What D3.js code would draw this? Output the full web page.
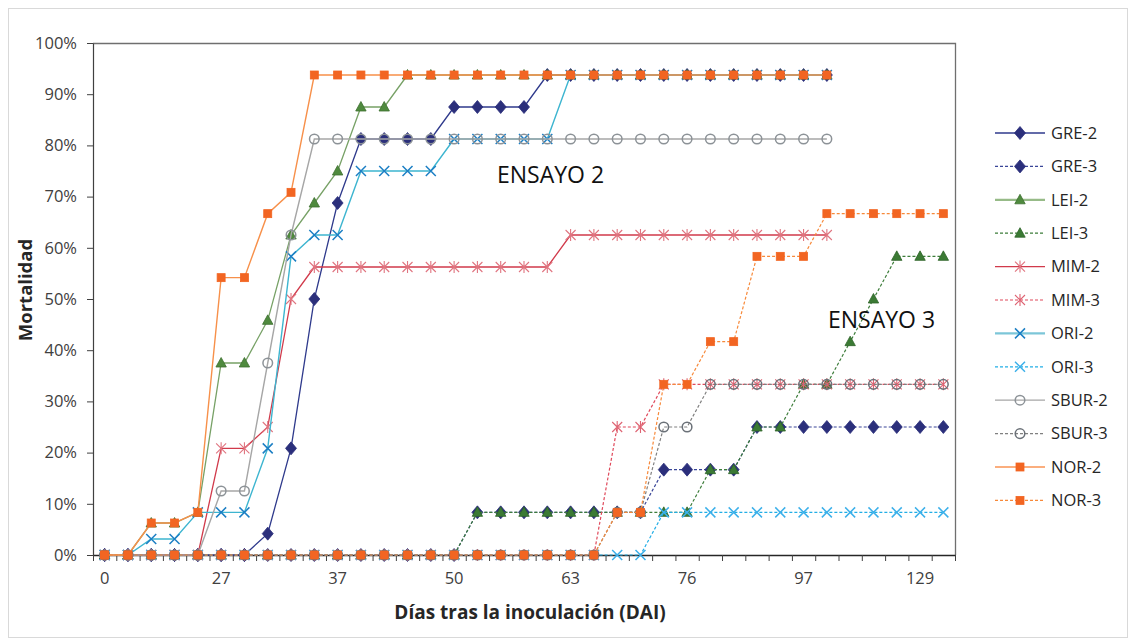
<!DOCTYPE html>
<html>
<head>
<meta charset="utf-8">
<script src="https://cdn.jsdelivr.net/npm/d3@7"></script>
<style>
  html, body { margin: 0; padding: 0; background: #fff; }
  svg { display: block; font-family: "Open Sans", "Noto Sans", sans-serif; }
</style>
</head>
<body>
<svg id="chart" width="1136" height="644"></svg>
<script>
// ---- Data (Mortalidad, %) ----
const nCategories = 37;
const tickIndex = [0, 5, 10, 15, 20, 25, 30, 35];
const tickLabels = ["0", "27", "37", "50", "63", "76", "97", "129"];
const yTicks = [0, 10, 20, 30, 40, 50, 60, 70, 80, 90, 100];

const GRE2 = [0,0,0,0,0,0,0,4.17,20.83,50,68.75,81.25,81.25,81.25,81.25,87.5,87.5,87.5,87.5,93.75,93.75,93.75,93.75,93.75,93.75,93.75,93.75,93.75,93.75,93.75,93.75,93.75];
const GRE3 = [0,0,0,0,0,0,0,0,0,0,0,0,0,0,0,0,8.33,8.33,8.33,8.33,8.33,8.33,8.33,8.33,16.67,16.67,16.67,16.67,25,25,25,25,25,25,25,25,25];
const LEI2 = [0,0,6.25,6.25,8.33,37.5,37.5,45.83,62.5,68.75,75,87.5,87.5,93.75,93.75,93.75,93.75,93.75,93.75,93.75,93.75,93.75,93.75,93.75,93.75,93.75,93.75,93.75,93.75,93.75,93.75,93.75];
const LEI3 = [0,0,0,0,0,0,0,0,0,0,0,0,0,0,0,0,8.33,8.33,8.33,8.33,8.33,8.33,8.33,8.33,8.33,8.33,16.67,16.67,25,25,33.33,33.33,41.67,50,58.33,58.33,58.33];
const MIM2 = [0,0,0,0,0,20.83,20.83,25,50,56.25,56.25,56.25,56.25,56.25,56.25,56.25,56.25,56.25,56.25,56.25,62.5,62.5,62.5,62.5,62.5,62.5,62.5,62.5,62.5,62.5,62.5,62.5];
const MIM3 = [0,0,0,0,0,0,0,0,0,0,0,0,0,0,0,0,0,0,0,0,0,0,25,25,33.33,33.33,33.33,33.33,33.33,33.33,33.33,33.33,33.33,33.33,33.33,33.33,33.33];
const ORI2 = [0,0,3.13,3.13,8.33,8.33,8.33,20.83,58.33,62.5,62.5,75,75,75,75,81.25,81.25,81.25,81.25,81.25,93.75,93.75,93.75,93.75,93.75,93.75,93.75,93.75,93.75,93.75,93.75,93.75];
const ORI3 = [0,0,0,0,0,0,0,0,0,0,0,0,0,0,0,0,0,0,0,0,0,0,0,0,8.33,8.33,8.33,8.33,8.33,8.33,8.33,8.33,8.33,8.33,8.33,8.33,8.33];
const SBUR2 = [0,0,0,0,0,12.5,12.5,37.5,62.5,81.25,81.25,81.25,81.25,81.25,81.25,81.25,81.25,81.25,81.25,81.25,81.25,81.25,81.25,81.25,81.25,81.25,81.25,81.25,81.25,81.25,81.25,81.25];
const SBUR3 = [0,0,0,0,0,0,0,0,0,0,0,0,0,0,0,0,0,0,0,0,0,0,8.33,8.33,25,25,33.33,33.33,33.33,33.33,33.33,33.33,33.33,33.33,33.33,33.33,33.33];
const NOR2 = [0,0,6.25,6.25,8.33,54.17,54.17,66.67,70.83,93.75,93.75,93.75,93.75,93.75,93.75,93.75,93.75,93.75,93.75,93.75,93.75,93.75,93.75,93.75,93.75,93.75,93.75,93.75,93.75,93.75,93.75,93.75];
const NOR3 = [0,0,0,0,0,0,0,0,0,0,0,0,0,0,0,0,0,0,0,0,0,0,8.33,8.33,33.33,33.33,41.67,41.67,58.33,58.33,58.33,66.67,66.67,66.67,66.67,66.67,66.67];

const seriesNames = ["GRE-2","GRE-3","LEI-2","LEI-3","MIM-2","MIM-3","ORI-2","ORI-3","SBUR-2","SBUR-3","NOR-2","NOR-3"];
const seriesValues = [GRE2, GRE3, LEI2, LEI3, MIM2, MIM3, ORI2, ORI3, SBUR2, SBUR3, NOR2, NOR3];

// ---- Styles ----
const styles = {
  "GRE-2":  {line:"#2f3a8c", dash:null,  width:1.3, marker:"diamond",  fill:"#2b2f7b", stroke:"#2b2f7b", legW:1.3},
  "GRE-3":  {line:"#3a4698", dash:"3,2", width:1.2, marker:"diamond",  fill:"#2b2f7b", stroke:"#2b2f7b", legW:1.2},
  "LEI-2":  {line:"#77a166", dash:null,  width:1.3, marker:"triangle", fill:"#4f8a3e", stroke:"#3c6f2f", legW:2.2, legLine:"#97bb88"},
  "LEI-3":  {line:"#3d7d3a", dash:"3,2", width:1.2, marker:"triangle", fill:"#3b7a34", stroke:"#2f6529", legW:1.2},
  "MIM-2":  {line:"#d13a4b", dash:null,  width:1.3, marker:"star",     fill:"none",    stroke:"#e07580", legW:1.3},
  "MIM-3":  {line:"#e0495b", dash:"3,2", width:1.2, marker:"star",     fill:"none",    stroke:"#de6473", legW:1.2},
  "ORI-2":  {line:"#3db5d0", dash:null,  width:1.4, marker:"x",        fill:"none",    stroke:"#1c7fc4", legW:2.4, legLine:"#7cc6d8"},
  "ORI-3":  {line:"#22aee6", dash:"3,2", width:1.2, marker:"x",        fill:"none",    stroke:"#3cb0ea", legW:1.2},
  "SBUR-2": {line:"#a6a6a6", dash:null,  width:1.4, marker:"circle",   fill:"none",    stroke:"#8c9297", legW:1.3},
  "SBUR-3": {line:"#808080", dash:"3,2", width:1.2, marker:"circle",   fill:"none",    stroke:"#6b7178", legW:1.2},
  "NOR-2":  {line:"#f7904a", dash:null,  width:1.4, marker:"square",   fill:"#f26522", stroke:"#f26522", legW:2.2, legLine:"#fbae7e"},
  "NOR-3":  {line:"#f7893a", dash:"3,2", width:1.2, marker:"square",   fill:"#f26522", stroke:"#f26522", legW:1.2}
};

// ---- Layout ----
const plot = {left: 93, right: 955, top: 43, bottom: 555};
const svg = d3.select("#chart");

// outer chart frame
svg.append("rect").attr("x", 8.5).attr("y", 8.5).attr("width", 1119).attr("height", 629)
  .attr("fill", "none").attr("stroke", "#d9d9d9").attr("stroke-width", 1);

const x = d3.scaleBand().domain(d3.range(nCategories)).range([plot.left, plot.right]).paddingInner(0).paddingOuter(0);
const xEdge = d3.scaleLinear().domain([0, nCategories]).range([plot.left, plot.right]);
const y = d3.scaleLinear().domain([0, 100]).range([plot.bottom, plot.top]);
const cx = i => x(i) + x.bandwidth() / 2;

// plot area border (top & right)
svg.append("path")
  .attr("d", `M${plot.left},${plot.top + 0.5}H${plot.right + 0.5}V${plot.bottom}`)
  .attr("fill", "none").attr("stroke", "#6f6f6f").attr("stroke-width", 1.3);

// Y axis
const yAxis = svg.append("g").attr("transform", `translate(${plot.left},0)`)
  .call(d3.axisLeft(y).tickValues(yTicks).tickFormat(d => d + "%").tickSize(6).tickSizeOuter(0));
yAxis.select(".domain").attr("stroke", "#404040").attr("stroke-width", 1.2);
yAxis.selectAll(".tick line").attr("stroke", "#404040");
yAxis.selectAll(".tick text").attr("x", -16).attr("fill", "#404040")
  .style("font-size", "16.5px").style("font-family", "'Open Sans', sans-serif");

// X axis: tick marks at category boundaries
const xTicksG = svg.append("g").attr("transform", `translate(0,${plot.bottom})`)
  .call(d3.axisBottom(xEdge).tickValues(d3.range(nCategories + 1)).tickFormat("").tickSize(6).tickSizeOuter(0));
xTicksG.select(".domain").attr("stroke", "#262626").attr("stroke-width", 1.4);
xTicksG.selectAll(".tick line").attr("stroke", "#404040");

// X axis labels
const labelMap = new Map(tickIndex.map((d, k) => [d, tickLabels[k]]));
const xLab = svg.append("g").attr("transform", `translate(0,${plot.bottom})`)
  .call(d3.axisBottom(x).tickValues(tickIndex).tickFormat(d => labelMap.get(d)).tickSize(0));
xLab.select(".domain").remove();
xLab.selectAll(".tick text").attr("y", 17).attr("fill", "#404040")
  .style("font-size", "16.5px").style("font-family", "'Open Sans', sans-serif");

// Axis titles
svg.append("text").attr("transform", "translate(32,290) rotate(-90)")
  .attr("text-anchor", "middle").attr("fill", "#262626")
  .style("font-size", "18.5px").style("font-weight", "bold").text("Mortalidad");
svg.append("text").attr("x", 530).attr("y", 619)
  .attr("text-anchor", "middle").attr("fill", "#262626")
  .style("font-size", "19px").style("font-weight", "bold").text("Días tras la inoculación (DAI)");

// ---- Marker drawing ----
function drawMarker(g, type, px, py, st) {
  if (type === "diamond") {
    g.append("path").attr("d", `M${px},${py-6.5}L${px+5.5},${py}L${px},${py+6.5}L${px-5.5},${py}Z`)
      .attr("fill", st.fill).attr("stroke", st.stroke).attr("stroke-width", 0.8);
  } else if (type === "triangle") {
    g.append("path").attr("d", `M${px},${py-5.5}L${px+5.2},${py+4}L${px-5.2},${py+4}Z`)
      .attr("fill", st.fill).attr("stroke", st.stroke).attr("stroke-width", 0.8);
  } else if (type === "square") {
    g.append("rect").attr("x", px - 4).attr("y", py - 4).attr("width", 8).attr("height", 8)
      .attr("fill", st.fill).attr("stroke", st.stroke).attr("stroke-width", 0.8);
  } else if (type === "circle") {
    g.append("circle").attr("cx", px).attr("cy", py).attr("r", 4.8)
      .attr("fill", "none").attr("stroke", st.stroke).attr("stroke-width", 1.5);
  } else if (type === "x") {
    const r = 5;
    g.append("path").attr("d", `M${px-r},${py-r}L${px+r},${py+r}M${px-r},${py+r}L${px+r},${py-r}`)
      .attr("fill", "none").attr("stroke", st.stroke).attr("stroke-width", 1.5);
  } else if (type === "star") {
    const r = 5;
    g.append("path").attr("d", `M${px-r},${py-r}L${px+r},${py+r}M${px-r},${py+r}L${px+r},${py-r}M${px},${py-r-1}L${px},${py+r+1}`)
      .attr("fill", "none").attr("stroke", st.stroke).attr("stroke-width", 1.1);
  }
}

// ---- Series ----
const lineGen = d3.line().x((d, i) => cx(i)).y(d => y(d));
const seriesG = svg.append("g");
seriesNames.forEach((name, k) => {
  const st = styles[name];
  const vals = seriesValues[k];
  const g = seriesG.append("g");
  g.append("path").datum(vals).attr("d", lineGen)
    .attr("fill", "none").attr("stroke", st.line).attr("stroke-width", st.width)
    .attr("stroke-dasharray", st.dash);
  vals.forEach((v, i) => drawMarker(g, st.marker, cx(i), y(v), st));
});

// ---- Annotations ----
svg.append("text").attr("x", 497).attr("y", 183).attr("fill", "#111")
  .style("font-size", "23px").text("ENSAYO 2");
svg.append("text").attr("x", 828).attr("y", 328).attr("fill", "#111")
  .style("font-size", "23px").text("ENSAYO 3");

// ---- Legend ----
const legend = svg.append("g");
seriesNames.forEach((name, k) => {
  const st = styles[name];
  const ly = 133 + k * 33.4;
  const g = legend.append("g");
  g.append("line").attr("x1", 995).attr("x2", 1045).attr("y1", ly).attr("y2", ly)
    .attr("stroke", st.legLine || st.line).attr("stroke-width", st.legW).attr("stroke-dasharray", st.dash);
  drawMarker(g, st.marker, 1020, ly, st);
  g.append("text").attr("x", 1051).attr("y", ly).attr("dy", "0.35em")
    .attr("fill", "#262626").style("font-size", "16.5px").text(name);
});
</script>
</body>
</html>
